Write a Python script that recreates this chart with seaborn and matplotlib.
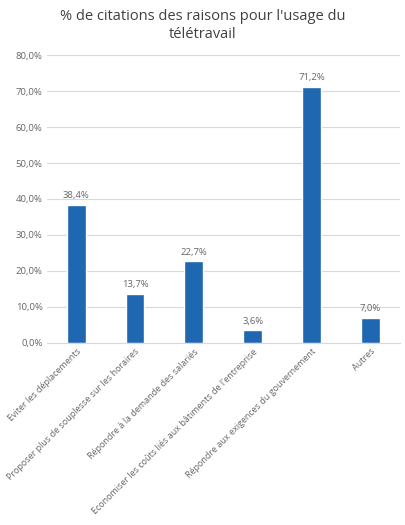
import matplotlib
matplotlib.use("Agg")
import matplotlib.pyplot as plt
import seaborn as sns
import pandas as pd

raisons = [
    "Eviter les déplacements",
    "Proposer plus de souplesse sur les horaires",
    "Répondre à la demande des salariés",
    "Economiser les coûts liés aux bâtiments de l'entreprise",
    "Répondre aux exigences du gouvernement",
    "Autres",
]
pourcentages = [38.4, 13.7, 22.7, 3.6, 71.2, 7.0]
yticks = [0, 10, 20, 30, 40, 50, 60, 70, 80]

df = pd.DataFrame({"raison": raisons, "pct": pourcentages})

sns.set_style("white")
plt.rcParams["font.family"] = ["Open Sans", "DejaVu Sans"]

fig = plt.figure(figsize=(4.06, 5.25), dpi=100)
ax = fig.add_axes([0.115, 0.347, 0.87, 0.548])

sns.barplot(data=df, x="raison", y="pct", color="#1f67b1", width=0.32,
            saturation=1, ax=ax)

ax.set_ylim(0, 80)
ax.set_yticks(yticks)
ax.set_yticklabels([f"{v:.1f}%".replace(".", ",") for v in yticks],
                   fontsize=6.8, color="#666666")
ax.yaxis.grid(True, color="#d9d9d9", linewidth=0.8)
ax.set_axisbelow(True)
for s in ["top", "right", "left"]:
    ax.spines[s].set_visible(False)
ax.spines["bottom"].set_color("#d9d9d9")
ax.tick_params(axis="both", length=0, pad=3)
ax.set_xlabel("")
ax.set_ylabel("")
ax.set_xticks(range(len(raisons)))
ax.set_xticklabels(raisons, rotation=45, ha="right", rotation_mode="anchor",
                   fontsize=6.5, color="#666666")

for i, v in enumerate(pourcentages):
    ax.text(i, v + 1.2, f"{v:.1f}%".replace(".", ","), ha="center",
            va="bottom", fontsize=6.8, color="#666666")

fig.suptitle("% de citations des raisons pour l'usage du\ntélétravail",
             y=0.983, fontsize=10.5, color="#404040", linespacing=1.25)

fig.savefig("out.png", dpi=100)
